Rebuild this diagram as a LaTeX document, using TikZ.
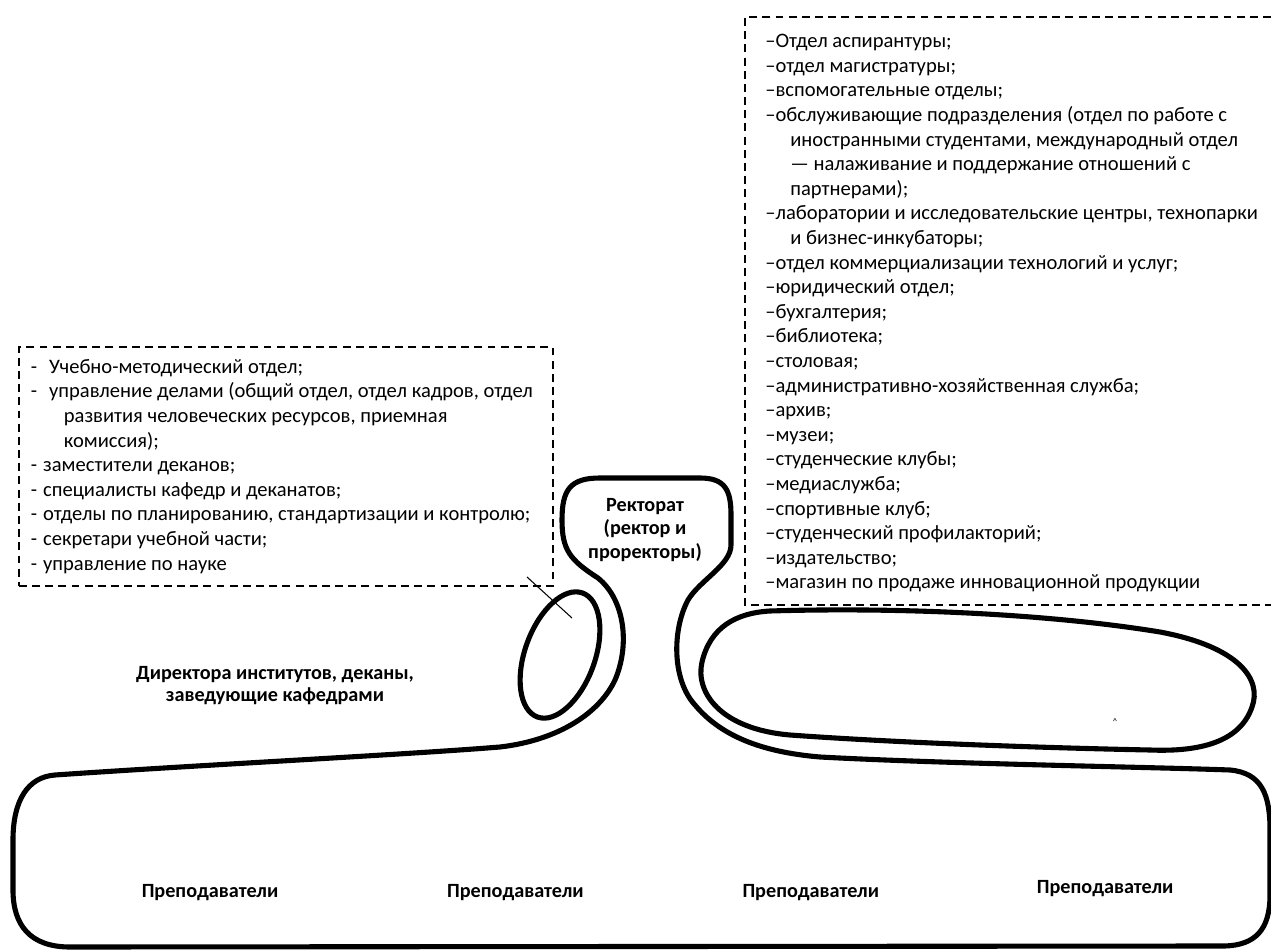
\documentclass[tikz,border=0pt]{standalone}
\usepackage{fontspec}
\setmainfont{Carlito}
\usepackage{tikz}
\usetikzlibrary{positioning}
\usetikzlibrary{shapes.geometric}
\tikzset{
dbox/.style={draw,
  dashed, dash pattern=on 4.5pt off 3pt,
    line width=1pt,
    align=flush left},
lbl/.style={font=\fontsize{11.5}{13.5}\selectfont\bfseries,
  align=center},
}
\tikzset{rim/.style={line width=2.9pt, line join=round, line cap=round}}
\tikzset{listfont/.style={font=\fontsize{11.7}{14}\selectfont}}

\begin{document}
\begin{tikzpicture}[x=0.02cm, y=-0.02cm]
    \useasboundingbox (0,0) rectangle (1271,952);

    % dashed lists
    \node [dbox, listfont, anchor=north west, text width=10.2cm, inner xsep=0.24cm, minimum height=4.78cm] (listL) at (18,346) {-\hspace{0.24cm}Учебно-методический отдел;\\-\hspace{0.24cm}управление делами (общий отдел, отдел кадров, отдел\\\hspace{0.66cm}развития человеческих ресурсов, приемная\\\hspace{0.66cm}комиссия);\\-\hspace{0.12cm}заместители деканов;\\-\hspace{0.12cm}специалисты кафедр и деканатов;\\-\hspace{0.12cm}отделы по планированию, стандартизации и контролю;\\-\hspace{0.12cm}секретари учебной части;\\-\hspace{0.12cm}управление по науке};
    \node [listfont, align=flush left, anchor=north west, text width=10cm, inner xsep=0.4cm, inner ysep=0.34cm] (listR) at (745,17) {\textendash Отдел аспирантуры;\\\textendash отдел магистратуры;\\\textendash вспомогательные отделы;\\\textendash обслуживающие подразделения (отдел по работе с\\\hspace{0.5cm}иностранными студентами, международный отдел\\\hspace{0.5cm}— налаживание и поддержание отношений с\\\hspace{0.5cm}партнерами);\\\textendash лаборатории и исследовательские центры, технопарки\\\hspace{0.5cm}и бизнес-инкубаторы;\\\textendash отдел коммерциализации технологий и услуг;\\\textendash юридический отдел;\\\textendash бухгалтерия;\\\textendash библиотека;\\\textendash столовая;\\\textendash административно-хозяйственная служба;\\\textendash архив;\\\textendash музеи;\\\textendash студенческие клубы;\\\textendash медиаслужба;\\\textendash спортивные клуб;\\\textendash студенческий профилакторий;\\\textendash издательство;\\\textendash магазин по продаже инновационной продукции};
    \draw [dash pattern=on 4.5pt off 3pt, line width=1pt] (1271,17) -| (745,605) -- (1271,605);

    % the body
    \draw [rim] (55,775) .. controls (200,765) and (400,755) .. (500,747)
        .. controls (560,740) and (600,712) .. (615,680)
        .. controls (630,645) and (625,600) .. (598,578)
        .. controls (570,560) and (562,550) .. (562,520)
        .. controls (562,490) and (570,478) .. (600,478) -- (700,478)
        .. controls (725,478) and (731,490) .. (731,515) -- (731,545)
        .. controls (731,565) and (700,580) .. (688,600)
        .. controls (672,630) and (672,680) .. (695,705)
        .. controls (720,735) and (760,752) .. (820,757)
        .. controls (950,764) and (1150,767) .. (1230,770)
        .. controls (1262,773) and (1270,795) .. (1270,830) -- (1270,895)
        .. controls (1270,930) and (1255,945) .. (1225,946) -- (70,947)
        .. controls (30,947) and (13,925) .. (13,890) -- (13,840)
        .. controls (13,800) and (28,777) .. (55,775) -- cycle;
    \node [rim, draw, ellipse, rotate=70, minimum width=2.64cm, minimum height=1.4cm, inner sep=0pt] (dekan) at (560,655) {};
    \draw [rim] (770,611) .. controls (900,607) and (1050,614) .. (1160,632)
        .. controls (1240,647) and (1262,680) .. (1252,707)
        .. controls (1240,742) and (1200,752) .. (1150,750)
        .. controls (1050,748) and (900,743) .. (790,735)
        .. controls (720,729) and (695,692) .. (702,662)
        .. controls (710,628) and (735,613) .. (770,611) -- cycle;

    \coordinate (ptr) at (527,577);
    \coordinate (ptrend) at (572,618);
    \draw [line width=0.6pt] (ptr) -- (ptrend);

    % labels
    \node [lbl, font=\fontsize{11.5}{13.6}\selectfont\bfseries] (rect) at (645,530) {Ректорат\\(ректор и\\проректоры)};
    \node [lbl, font=\fontsize{11.5}{12.5}\selectfont\bfseries] (dir) at (275,686) {Директора институтов, деканы,\\заведующие кафедрами};
    \node [lbl] (t1) at (210,893) {Преподаватели};
    \node [lbl, right=3.13cm of t1] (t2) {Преподаватели};
    \node [lbl, right=2.93cm of t2] (t3) {Преподаватели};
    \node [lbl, right=2.91cm of t3, yshift=0.08cm] (t4) {Преподаватели};
    \node [font=\tiny, inner sep=0pt] (mark) at (1115,722) {\textasciicircum};
\end{tikzpicture}
\end{document}
